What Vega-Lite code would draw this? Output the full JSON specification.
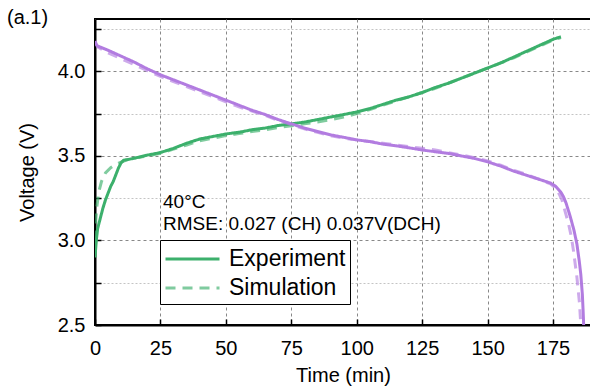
{
  "$schema": "https://vega.github.io/schema/vega-lite/v6.json",
  "autosize": {"type": "none"},
  "width": 496,
  "height": 306,
  "padding": {"left": 95, "top": 19, "right": 0, "bottom": 63},
  "background": "white",
  "title": {"text": "(a.1)", "anchor": "start", "frame": "group", "orient": "top", "dx": -88, "dy": 25, "offset": 0, "baseline": "alphabetic", "fontSize": 20, "fontWeight": "normal", "font": "Liberation Sans", "color": "black"},
  "config": {
    "font": "Liberation Sans",
    "view": {"stroke": "black", "strokeWidth": 2},
    "axis": {"labelFont": "Liberation Sans", "titleFont": "Liberation Sans", "labelFontSize": 20, "titleFontSize": 20, "titleFontWeight": "normal", "labelColor": "black", "titleColor": "black", "domainColor": "black", "domainWidth": 2, "tickColor": "black", "tickWidth": 1.5, "tickSize": -6, "grid": true, "gridColor": "#888", "gridDash": [3, 3], "gridWidth": 1}
  },
  "datasets": {
    "curves": [
      {"t": 0, "v": 2.9, "series": "Charge", "source": "Experiment"},
      {"t": 0.5, "v": 3.0, "series": "Charge", "source": "Experiment"},
      {"t": 1, "v": 3.07, "series": "Charge", "source": "Experiment"},
      {"t": 2, "v": 3.13, "series": "Charge", "source": "Experiment"},
      {"t": 3, "v": 3.19, "series": "Charge", "source": "Experiment"},
      {"t": 4, "v": 3.24, "series": "Charge", "source": "Experiment"},
      {"t": 5, "v": 3.28, "series": "Charge", "source": "Experiment"},
      {"t": 6, "v": 3.32, "series": "Charge", "source": "Experiment"},
      {"t": 7, "v": 3.35, "series": "Charge", "source": "Experiment"},
      {"t": 8, "v": 3.39, "series": "Charge", "source": "Experiment"},
      {"t": 9, "v": 3.43, "series": "Charge", "source": "Experiment"},
      {"t": 10, "v": 3.46, "series": "Charge", "source": "Experiment"},
      {"t": 11, "v": 3.475, "series": "Charge", "source": "Experiment"},
      {"t": 13, "v": 3.48, "series": "Charge", "source": "Experiment"},
      {"t": 16, "v": 3.49, "series": "Charge", "source": "Experiment"},
      {"t": 20, "v": 3.505, "series": "Charge", "source": "Experiment"},
      {"t": 25, "v": 3.52, "series": "Charge", "source": "Experiment"},
      {"t": 30, "v": 3.545, "series": "Charge", "source": "Experiment"},
      {"t": 35, "v": 3.575, "series": "Charge", "source": "Experiment"},
      {"t": 40, "v": 3.6, "series": "Charge", "source": "Experiment"},
      {"t": 45, "v": 3.615, "series": "Charge", "source": "Experiment"},
      {"t": 50, "v": 3.63, "series": "Charge", "source": "Experiment"},
      {"t": 55, "v": 3.64, "series": "Charge", "source": "Experiment"},
      {"t": 60, "v": 3.655, "series": "Charge", "source": "Experiment"},
      {"t": 65, "v": 3.665, "series": "Charge", "source": "Experiment"},
      {"t": 70, "v": 3.68, "series": "Charge", "source": "Experiment"},
      {"t": 75, "v": 3.69, "series": "Charge", "source": "Experiment"},
      {"t": 80, "v": 3.7, "series": "Charge", "source": "Experiment"},
      {"t": 85, "v": 3.715, "series": "Charge", "source": "Experiment"},
      {"t": 90, "v": 3.73, "series": "Charge", "source": "Experiment"},
      {"t": 95, "v": 3.745, "series": "Charge", "source": "Experiment"},
      {"t": 100, "v": 3.76, "series": "Charge", "source": "Experiment"},
      {"t": 105, "v": 3.78, "series": "Charge", "source": "Experiment"},
      {"t": 110, "v": 3.805, "series": "Charge", "source": "Experiment"},
      {"t": 115, "v": 3.83, "series": "Charge", "source": "Experiment"},
      {"t": 120, "v": 3.85, "series": "Charge", "source": "Experiment"},
      {"t": 125, "v": 3.875, "series": "Charge", "source": "Experiment"},
      {"t": 130, "v": 3.905, "series": "Charge", "source": "Experiment"},
      {"t": 135, "v": 3.93, "series": "Charge", "source": "Experiment"},
      {"t": 140, "v": 3.96, "series": "Charge", "source": "Experiment"},
      {"t": 145, "v": 3.99, "series": "Charge", "source": "Experiment"},
      {"t": 150, "v": 4.02, "series": "Charge", "source": "Experiment"},
      {"t": 155, "v": 4.05, "series": "Charge", "source": "Experiment"},
      {"t": 160, "v": 4.085, "series": "Charge", "source": "Experiment"},
      {"t": 165, "v": 4.12, "series": "Charge", "source": "Experiment"},
      {"t": 170, "v": 4.155, "series": "Charge", "source": "Experiment"},
      {"t": 175, "v": 4.19, "series": "Charge", "source": "Experiment"},
      {"t": 178, "v": 4.205, "series": "Charge", "source": "Experiment"},

      {"t": 0, "v": 3.0, "series": "Charge", "source": "Simulation"},
      {"t": 0.3, "v": 3.12, "series": "Charge", "source": "Simulation"},
      {"t": 0.7, "v": 3.2, "series": "Charge", "source": "Simulation"},
      {"t": 1.5, "v": 3.29, "series": "Charge", "source": "Simulation"},
      {"t": 2.5, "v": 3.35, "series": "Charge", "source": "Simulation"},
      {"t": 4, "v": 3.4, "series": "Charge", "source": "Simulation"},
      {"t": 6, "v": 3.43, "series": "Charge", "source": "Simulation"},
      {"t": 8, "v": 3.45, "series": "Charge", "source": "Simulation"},
      {"t": 11, "v": 3.47, "series": "Charge", "source": "Simulation"},
      {"t": 13, "v": 3.48, "series": "Charge", "source": "Simulation"},
      {"t": 16, "v": 3.49, "series": "Charge", "source": "Simulation"},
      {"t": 20, "v": 3.5, "series": "Charge", "source": "Simulation"},
      {"t": 25, "v": 3.515, "series": "Charge", "source": "Simulation"},
      {"t": 30, "v": 3.54, "series": "Charge", "source": "Simulation"},
      {"t": 35, "v": 3.565, "series": "Charge", "source": "Simulation"},
      {"t": 40, "v": 3.59, "series": "Charge", "source": "Simulation"},
      {"t": 45, "v": 3.605, "series": "Charge", "source": "Simulation"},
      {"t": 50, "v": 3.62, "series": "Charge", "source": "Simulation"},
      {"t": 55, "v": 3.632, "series": "Charge", "source": "Simulation"},
      {"t": 60, "v": 3.645, "series": "Charge", "source": "Simulation"},
      {"t": 65, "v": 3.655, "series": "Charge", "source": "Simulation"},
      {"t": 70, "v": 3.668, "series": "Charge", "source": "Simulation"},
      {"t": 75, "v": 3.678, "series": "Charge", "source": "Simulation"},
      {"t": 80, "v": 3.69, "series": "Charge", "source": "Simulation"},
      {"t": 85, "v": 3.7, "series": "Charge", "source": "Simulation"},
      {"t": 90, "v": 3.715, "series": "Charge", "source": "Simulation"},
      {"t": 95, "v": 3.73, "series": "Charge", "source": "Simulation"},
      {"t": 100, "v": 3.75, "series": "Charge", "source": "Simulation"},
      {"t": 105, "v": 3.775, "series": "Charge", "source": "Simulation"},
      {"t": 110, "v": 3.8, "series": "Charge", "source": "Simulation"},
      {"t": 115, "v": 3.825, "series": "Charge", "source": "Simulation"},
      {"t": 120, "v": 3.85, "series": "Charge", "source": "Simulation"},
      {"t": 125, "v": 3.875, "series": "Charge", "source": "Simulation"},
      {"t": 130, "v": 3.9, "series": "Charge", "source": "Simulation"},
      {"t": 135, "v": 3.93, "series": "Charge", "source": "Simulation"},
      {"t": 140, "v": 3.96, "series": "Charge", "source": "Simulation"},
      {"t": 145, "v": 3.99, "series": "Charge", "source": "Simulation"},
      {"t": 150, "v": 4.02, "series": "Charge", "source": "Simulation"},
      {"t": 155, "v": 4.05, "series": "Charge", "source": "Simulation"},
      {"t": 160, "v": 4.08, "series": "Charge", "source": "Simulation"},
      {"t": 165, "v": 4.115, "series": "Charge", "source": "Simulation"},
      {"t": 170, "v": 4.15, "series": "Charge", "source": "Simulation"},
      {"t": 175, "v": 4.185, "series": "Charge", "source": "Simulation"},
      {"t": 178, "v": 4.2, "series": "Charge", "source": "Simulation"},

      {"t": 0, "v": 4.18, "series": "Discharge", "source": "Experiment"},
      {"t": 0.5, "v": 4.16, "series": "Discharge", "source": "Experiment"},
      {"t": 1, "v": 4.15, "series": "Discharge", "source": "Experiment"},
      {"t": 5, "v": 4.125, "series": "Discharge", "source": "Experiment"},
      {"t": 10, "v": 4.09, "series": "Discharge", "source": "Experiment"},
      {"t": 15, "v": 4.055, "series": "Discharge", "source": "Experiment"},
      {"t": 20, "v": 4.015, "series": "Discharge", "source": "Experiment"},
      {"t": 25, "v": 3.98, "series": "Discharge", "source": "Experiment"},
      {"t": 30, "v": 3.95, "series": "Discharge", "source": "Experiment"},
      {"t": 35, "v": 3.92, "series": "Discharge", "source": "Experiment"},
      {"t": 40, "v": 3.89, "series": "Discharge", "source": "Experiment"},
      {"t": 45, "v": 3.86, "series": "Discharge", "source": "Experiment"},
      {"t": 50, "v": 3.83, "series": "Discharge", "source": "Experiment"},
      {"t": 55, "v": 3.8, "series": "Discharge", "source": "Experiment"},
      {"t": 60, "v": 3.77, "series": "Discharge", "source": "Experiment"},
      {"t": 65, "v": 3.745, "series": "Discharge", "source": "Experiment"},
      {"t": 70, "v": 3.715, "series": "Discharge", "source": "Experiment"},
      {"t": 75, "v": 3.69, "series": "Discharge", "source": "Experiment"},
      {"t": 80, "v": 3.665, "series": "Discharge", "source": "Experiment"},
      {"t": 85, "v": 3.645, "series": "Discharge", "source": "Experiment"},
      {"t": 90, "v": 3.625, "series": "Discharge", "source": "Experiment"},
      {"t": 95, "v": 3.61, "series": "Discharge", "source": "Experiment"},
      {"t": 100, "v": 3.595, "series": "Discharge", "source": "Experiment"},
      {"t": 105, "v": 3.585, "series": "Discharge", "source": "Experiment"},
      {"t": 110, "v": 3.57, "series": "Discharge", "source": "Experiment"},
      {"t": 115, "v": 3.56, "series": "Discharge", "source": "Experiment"},
      {"t": 120, "v": 3.548, "series": "Discharge", "source": "Experiment"},
      {"t": 125, "v": 3.535, "series": "Discharge", "source": "Experiment"},
      {"t": 130, "v": 3.525, "series": "Discharge", "source": "Experiment"},
      {"t": 135, "v": 3.515, "series": "Discharge", "source": "Experiment"},
      {"t": 140, "v": 3.5, "series": "Discharge", "source": "Experiment"},
      {"t": 145, "v": 3.485, "series": "Discharge", "source": "Experiment"},
      {"t": 150, "v": 3.465, "series": "Discharge", "source": "Experiment"},
      {"t": 155, "v": 3.44, "series": "Discharge", "source": "Experiment"},
      {"t": 160, "v": 3.41, "series": "Discharge", "source": "Experiment"},
      {"t": 165, "v": 3.385, "series": "Discharge", "source": "Experiment"},
      {"t": 170, "v": 3.36, "series": "Discharge", "source": "Experiment"},
      {"t": 174, "v": 3.34, "series": "Discharge", "source": "Experiment"},
      {"t": 176, "v": 3.32, "series": "Discharge", "source": "Experiment"},
      {"t": 178, "v": 3.285, "series": "Discharge", "source": "Experiment"},
      {"t": 179, "v": 3.258, "series": "Discharge", "source": "Experiment"},
      {"t": 180, "v": 3.22, "series": "Discharge", "source": "Experiment"},
      {"t": 181.6, "v": 3.14, "series": "Discharge", "source": "Experiment"},
      {"t": 183, "v": 3.06, "series": "Discharge", "source": "Experiment"},
      {"t": 184.1, "v": 2.98, "series": "Discharge", "source": "Experiment"},
      {"t": 185, "v": 2.88, "series": "Discharge", "source": "Experiment"},
      {"t": 185.6, "v": 2.8, "series": "Discharge", "source": "Experiment"},
      {"t": 186.2, "v": 2.68, "series": "Discharge", "source": "Experiment"},
      {"t": 186.5, "v": 2.58, "series": "Discharge", "source": "Experiment"},
      {"t": 186.7, "v": 2.5, "series": "Discharge", "source": "Experiment"},

      {"t": 0, "v": 4.17, "series": "Discharge", "source": "Simulation"},
      {"t": 1, "v": 4.145, "series": "Discharge", "source": "Simulation"},
      {"t": 5, "v": 4.11, "series": "Discharge", "source": "Simulation"},
      {"t": 10, "v": 4.075, "series": "Discharge", "source": "Simulation"},
      {"t": 15, "v": 4.04, "series": "Discharge", "source": "Simulation"},
      {"t": 20, "v": 4.005, "series": "Discharge", "source": "Simulation"},
      {"t": 25, "v": 3.97, "series": "Discharge", "source": "Simulation"},
      {"t": 30, "v": 3.94, "series": "Discharge", "source": "Simulation"},
      {"t": 35, "v": 3.91, "series": "Discharge", "source": "Simulation"},
      {"t": 40, "v": 3.88, "series": "Discharge", "source": "Simulation"},
      {"t": 45, "v": 3.85, "series": "Discharge", "source": "Simulation"},
      {"t": 50, "v": 3.82, "series": "Discharge", "source": "Simulation"},
      {"t": 55, "v": 3.79, "series": "Discharge", "source": "Simulation"},
      {"t": 60, "v": 3.765, "series": "Discharge", "source": "Simulation"},
      {"t": 65, "v": 3.74, "series": "Discharge", "source": "Simulation"},
      {"t": 70, "v": 3.71, "series": "Discharge", "source": "Simulation"},
      {"t": 75, "v": 3.685, "series": "Discharge", "source": "Simulation"},
      {"t": 80, "v": 3.66, "series": "Discharge", "source": "Simulation"},
      {"t": 85, "v": 3.64, "series": "Discharge", "source": "Simulation"},
      {"t": 90, "v": 3.62, "series": "Discharge", "source": "Simulation"},
      {"t": 95, "v": 3.605, "series": "Discharge", "source": "Simulation"},
      {"t": 100, "v": 3.595, "series": "Discharge", "source": "Simulation"},
      {"t": 105, "v": 3.585, "series": "Discharge", "source": "Simulation"},
      {"t": 110, "v": 3.575, "series": "Discharge", "source": "Simulation"},
      {"t": 115, "v": 3.565, "series": "Discharge", "source": "Simulation"},
      {"t": 120, "v": 3.555, "series": "Discharge", "source": "Simulation"},
      {"t": 125, "v": 3.545, "series": "Discharge", "source": "Simulation"},
      {"t": 130, "v": 3.535, "series": "Discharge", "source": "Simulation"},
      {"t": 135, "v": 3.52, "series": "Discharge", "source": "Simulation"},
      {"t": 140, "v": 3.505, "series": "Discharge", "source": "Simulation"},
      {"t": 145, "v": 3.49, "series": "Discharge", "source": "Simulation"},
      {"t": 150, "v": 3.47, "series": "Discharge", "source": "Simulation"},
      {"t": 155, "v": 3.445, "series": "Discharge", "source": "Simulation"},
      {"t": 160, "v": 3.415, "series": "Discharge", "source": "Simulation"},
      {"t": 165, "v": 3.39, "series": "Discharge", "source": "Simulation"},
      {"t": 170, "v": 3.36, "series": "Discharge", "source": "Simulation"},
      {"t": 174, "v": 3.335, "series": "Discharge", "source": "Simulation"},
      {"t": 176, "v": 3.31, "series": "Discharge", "source": "Simulation"},
      {"t": 177.5, "v": 3.27, "series": "Discharge", "source": "Simulation"},
      {"t": 178.4, "v": 3.24, "series": "Discharge", "source": "Simulation"},
      {"t": 180, "v": 3.15, "series": "Discharge", "source": "Simulation"},
      {"t": 180.9, "v": 3.1, "series": "Discharge", "source": "Simulation"},
      {"t": 182, "v": 3.02, "series": "Discharge", "source": "Simulation"},
      {"t": 182.8, "v": 2.94, "series": "Discharge", "source": "Simulation"},
      {"t": 184.1, "v": 2.785, "series": "Discharge", "source": "Simulation"},
      {"t": 185.1, "v": 2.63, "series": "Discharge", "source": "Simulation"},
      {"t": 185.6, "v": 2.5, "series": "Discharge", "source": "Simulation"}
    ],
    "notes": [
      {"t": 26, "v": 3.19, "label": "40°C"},
      {"t": 26, "v": 3.06, "label": "RMSE: 0.027 (CH) 0.037V(DCH)"}
    ]
  },
  "layer": [
    {
      "data": {"name": "curves"},
      "mark": {"type": "line", "strokeWidth": 3, "clip": true},
      "encoding": {
        "x": {"field": "t", "type": "quantitative", "title": "Time (min)",
              "scale": {"domain": [0, 189.5], "nice": false, "zero": false},
              "axis": {"values": [0, 25, 50, 75, 100, 125, 150, 175], "labelPadding": 19, "titleY": 40, "labelFlush": false}},
        "y": {"field": "v", "type": "quantitative", "title": "Voltage (V)",
              "scale": {"domain": [2.5, 4.31], "nice": false, "zero": false},
              "axis": {"values": [2.5, 2.75, 3.0, 3.25, 3.5, 3.75, 4.0, 4.25],
                       "labelExpr": "(round(datum.value*4) % 2 == 0) ? format(datum.value, '.1f') : ''",
                       "labelPadding": 16, "titleX": -58,
                       "gridColor": {"condition": {"test": "round(datum.value*4) % 2 == 0", "value": "#888"}, "value": "#c4c4c4"},
                       "gridDash": {"condition": {"test": "round(datum.value*4) % 2 == 0", "value": [3, 3]}, "value": [2, 2]}}},
        "color": {"field": "series", "type": "nominal", "legend": null,
                  "scale": {"domain": ["Charge", "Discharge"], "range": ["#3cb06c", "#b27ce0"]}},
        "strokeDash": {"field": "source", "type": "nominal",
                       "scale": {"domain": ["Experiment", "Simulation"], "range": [[1, 0], [10, 7]]},
                       "legend": {"title": null, "orient": "none", "legendX": 65, "legendY": 221,
                                  "strokeColor": "black", "fillColor": "white", "padding": 4,
                                  "labelFontSize": 23, "labelFont": "Liberation Sans", "labelColor": "black",
                                  "symbolType": "M-1,0H3", "symbolSize": 729, "symbolStrokeWidth": 3,
                                  "symbolStrokeColor": "#3cb06c", "labelOffset": 35, "rowPadding": 2}},
        "opacity": {"field": "source", "type": "nominal",
                    "scale": {"domain": ["Experiment", "Simulation"], "range": [1, 0.65]}},
        "detail": {"field": "series"}
      }
    },
    {
      "data": {"name": "notes"},
      "mark": {"type": "text", "align": "left", "baseline": "alphabetic", "fontSize": 19, "font": "Liberation Sans", "color": "black"},
      "encoding": {
        "x": {"field": "t", "type": "quantitative"},
        "y": {"field": "v", "type": "quantitative"},
        "text": {"field": "label"}
      }
    }
  ]
}
